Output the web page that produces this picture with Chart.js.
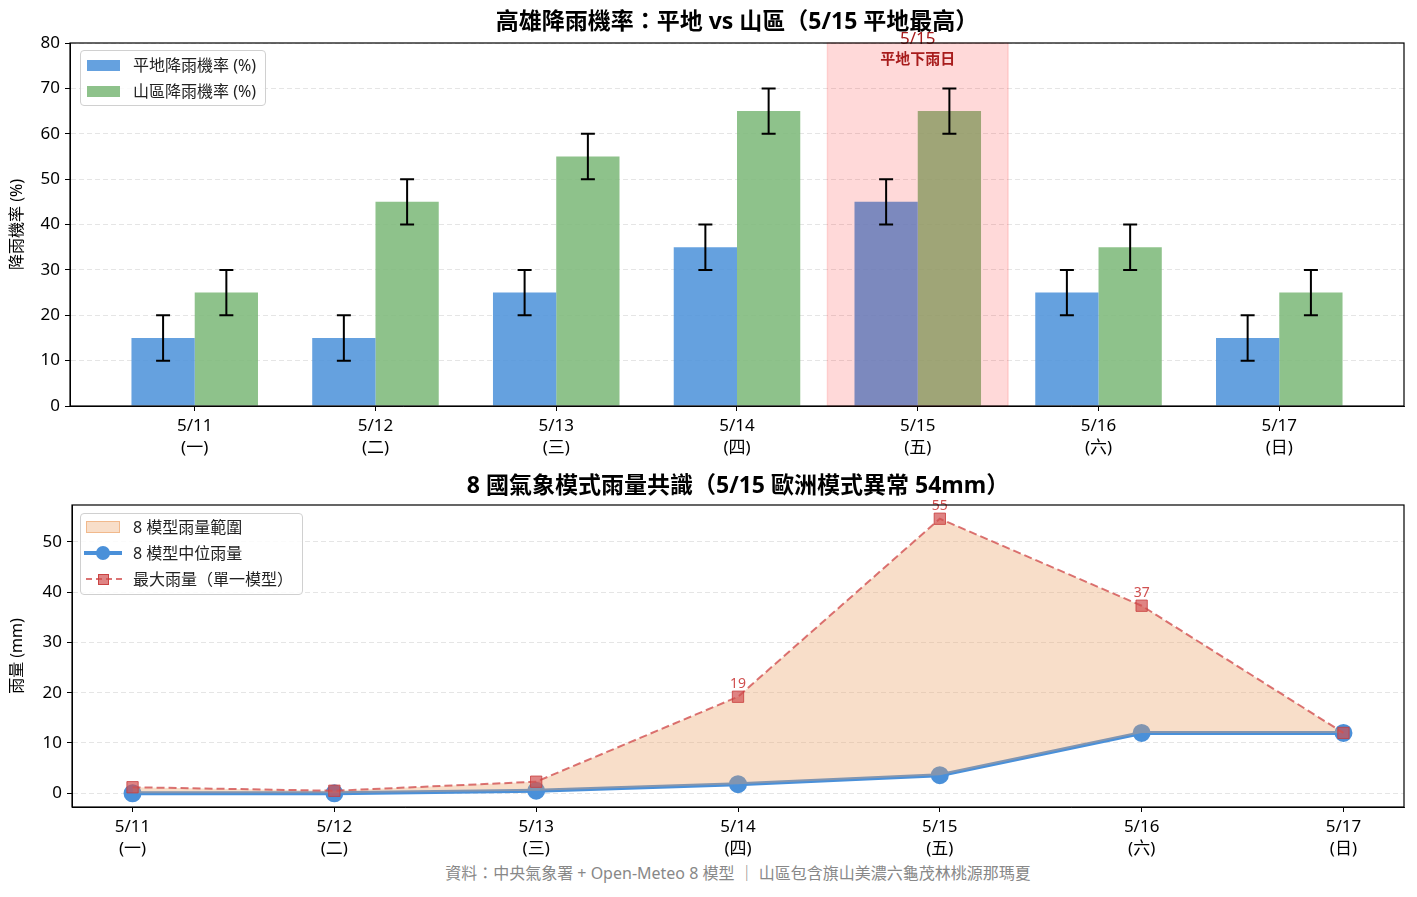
<!DOCTYPE html>
<html>
<head>
<meta charset="utf-8">
<script src="https://cdn.jsdelivr.net/npm/chart.js@4.4.1/dist/chart.umd.min.js"></script>
<style>
  body { margin: 0; background: #fff; font-family: 'Noto Sans', 'Noto Sans CJK TC', sans-serif; }
  #wrap { position: relative; width: 1417px; height: 897px; overflow: hidden; }
  canvas { position: absolute; left: 0; }
  .legend { position: absolute; background: rgba(255,255,255,0.85); border: 1px solid #d0d0d0; border-radius: 4px; font-size: 16px; color: #222; }
  .row { position: absolute; left: 0; height: 22px; width: 100%; }
  .row span { position: absolute; left: 52px; top: 0; line-height: 22px; white-space: nowrap; }
  .sw { position: absolute; }
  #footer { position: absolute; top: 862px; left: 338px; width: 800px; text-align: center; font-size: 16px; line-height: 22px; color: #888; white-space: nowrap; }
</style>
</head>
<body>
<div id="wrap">
  <canvas id="top" width="1417" height="460" style="top:0"></canvas>
  <canvas id="bottom" width="1417" height="400" style="top:462px"></canvas>

  <div class="legend" style="left:80px;top:50px;width:184px;height:54px;">
    <div class="row" style="top:3px"><div class="sw" style="left:6px;top:6px;width:33px;height:11px;background:rgba(74,144,217,0.85)"></div><span>平地降雨機率 (%)</span></div>
    <div class="row" style="top:29px"><div class="sw" style="left:6px;top:6px;width:33px;height:11px;background:rgba(122,183,119,0.85)"></div><span>山區降雨機率 (%)</span></div>
  </div>

  <div class="legend" style="left:80px;top:513px;width:221px;height:80px;">
    <div class="row" style="top:2px"><div class="sw" style="left:5px;top:5px;width:32px;height:10px;background:rgba(236,160,100,0.35);border:1px solid rgba(236,160,100,0.6)"></div><span>8 模型雨量範圍</span></div>
    <div class="row" style="top:28px"><div class="sw" style="left:3px;top:9px;width:38px;height:4px;background:#4a90d9"></div><div class="sw" style="left:15px;top:4px;width:14px;height:14px;border-radius:50%;background:#4a90d9"></div><span>8 模型中位雨量</span></div>
    <div class="row" style="top:54px"><div class="sw" style="left:5px;top:10px;width:36px;height:0;border-top:2px dashed rgba(210,80,80,0.8)"></div><div class="sw" style="left:17px;top:6px;width:9px;height:9px;background:rgba(210,80,80,0.7);border:1px solid rgba(200,60,60,0.9)"></div><span>最大雨量（單一模型）</span></div>
  </div>

  <div id="footer">資料：中央氣象署 + Open-Meteo 8 模型 ｜ 山區包含旗山美濃六龜茂林桃源那瑪夏</div>
</div>

<script>
// 日期與星期
const days = ['5/11', '5/12', '5/13', '5/14', '5/15', '5/16', '5/17'];
const weekdays = ['(一)', '(二)', '(三)', '(四)', '(五)', '(六)', '(日)'];
const dayTicks = [0, 1, 2, 3, 4, 5, 6];

// 上圖：降雨機率
const plainProb = [15, 15, 25, 35, 45, 25, 15];
const mountainProb = [25, 45, 55, 65, 65, 35, 25];
const plainErr = [5, 5, 5, 5, 5, 5, 5];
const mountainErr = [5, 5, 5, 5, 5, 5, 5];
const probTicks = [0, 10, 20, 30, 40, 50, 60, 70, 80];
const highlightIndex = 4;

// 下圖：模式雨量 (mm)
const medianRain = [0, 0, 0.5, 1.8, 3.6, 12, 12];
const maxRain = [1.2, 0.5, 2.3, 19.2, 54.6, 37.3, 12];
const rainTicks = [0, 10, 20, 30, 40, 50];

const FONT = "'Noto Sans', 'Noto Sans CJK TC', sans-serif";
const xy = (arr) => arr.map((v, i) => ({ x: i, y: v }));
const tickLabel = (v) => [days[v], weekdays[v]];
const setTicks = (arr) => (s) => { s.ticks = arr.map((v) => ({ value: v })); };

const gridStyle = {
  color: 'rgba(0,0,0,0.13)', lineWidth: 0.8,
  tickColor: '#000', tickLength: 5, tickWidth: 1, tickBorderDash: []
};

// 外框
const framePlugin = {
  id: 'frame',
  afterDraw(chart) {
    const { ctx, chartArea: a } = chart;
    ctx.save();
    ctx.strokeStyle = '#000';
    ctx.lineWidth = 1.2;
    ctx.strokeRect(a.left, a.top, a.right - a.left, a.bottom - a.top);
    ctx.restore();
  }
};

// 5/15 標示 + 誤差線
const topExtras = {
  id: 'topExtras',
  afterDatasetsDraw(chart) {
    const { ctx, chartArea: a, scales } = chart;
    const x0 = scales.x.getPixelForValue(highlightIndex - 0.5);
    const x1 = scales.x.getPixelForValue(highlightIndex + 0.5);
    ctx.save();
    ctx.fillStyle = 'rgba(255,0,0,0.15)';
    ctx.fillRect(x0, a.top, x1 - x0, a.bottom - a.top);
    ctx.strokeStyle = 'rgba(255,0,0,0.12)';
    ctx.lineWidth = 1.5;
    ctx.strokeRect(x0, a.top, x1 - x0, a.bottom - a.top);

    const errs = [plainErr, mountainErr];
    ctx.strokeStyle = '#000';
    ctx.lineWidth = 2;
    chart.data.datasets.forEach((ds, di) => {
      chart.getDatasetMeta(di).data.forEach((bar, i) => {
        const v = ds.data[i].y, e = errs[di][i];
        const yTop = scales.y.getPixelForValue(v + e);
        const yBot = scales.y.getPixelForValue(v - e);
        ctx.beginPath();
        ctx.moveTo(bar.x, yTop); ctx.lineTo(bar.x, yBot);
        ctx.moveTo(bar.x - 7, yTop); ctx.lineTo(bar.x + 7, yTop);
        ctx.moveTo(bar.x - 7, yBot); ctx.lineTo(bar.x + 7, yBot);
        ctx.stroke();
      });
    });

    const cx = (x0 + x1) / 2;
    ctx.fillStyle = '#a81c1c';
    ctx.textAlign = 'center';
    ctx.textBaseline = 'middle';
    ctx.font = '17px ' + FONT;
    ctx.fillText(days[highlightIndex], cx, a.top - 4);
    ctx.font = 'bold 15px ' + FONT;
    ctx.fillText('平地下雨日', cx, a.top + 17);
    ctx.restore();
  }
};

// 最大雨量數字
const rainLabels = {
  id: 'rainLabels',
  afterDatasetsDraw(chart) {
    const { ctx, scales } = chart;
    ctx.save();
    ctx.fillStyle = '#d05050';
    ctx.font = '14px ' + FONT;
    ctx.textAlign = 'center';
    ctx.textBaseline = 'bottom';
    maxRain.forEach((v, i) => {
      if (v < 15) return;
      ctx.fillText(Math.round(v), scales.x.getPixelForValue(i), scales.y.getPixelForValue(v) - 6);
    });
    ctx.restore();
  }
};

function baseOptions(titleText, titlePad, yTitle, yMin, yMax, yTicks, xMin, xMax, axisWidth, xAxisHeight) {
  return {
    responsive: false,
    animation: false,
    layout: { padding: { left: 0, right: 13, top: 0, bottom: 0 } },
    plugins: {
      legend: { display: false },
      tooltip: { enabled: false },
      title: {
        display: true, text: titleText, fullSize: false, color: '#000',
        font: { family: FONT, size: 23, weight: 'bold', lineHeight: 1.2 },
        padding: titlePad
      }
    },
    scales: {
      x: {
        type: 'linear', min: xMin, max: xMax, offset: false,
        afterFit: (s) => { s.height = xAxisHeight; },
        afterBuildTicks: setTicks(dayTicks),
        grid: { ...gridStyle, drawOnChartArea: false, offset: false },
        border: { color: '#000', width: 1 },
        ticks: {
          autoSkip: false, maxRotation: 0,
          color: '#000', padding: 5,
          font: { family: FONT, size: 17, lineHeight: 1.25 },
          callback: tickLabel
        }
      },
      y: {
        min: yMin, max: yMax,
        afterFit: (s) => { s.width = axisWidth; },
        afterBuildTicks: setTicks(yTicks),
        grid: gridStyle,
        border: { color: '#000', width: 1, dash: [5, 3] },
        title: { display: true, text: yTitle, color: '#000', font: { family: FONT, size: 16, lineHeight: 1.2 }, padding: { top: 8, bottom: 0 } },
        ticks: { color: '#000', padding: 5, font: { family: FONT, size: 17 } }
      }
    }
  };
}

const topOpts = baseOptions('高雄降雨機率：平地 vs 山區（5/15 平地最高）', { top: 9, bottom: 6.4 }, '降雨機率 (%)',
  probTicks[0], probTicks[probTicks.length - 1], probTicks, -0.69, 6.69, 70, 54);

new Chart(document.getElementById('top'), {
  type: 'bar',
  data: {
    datasets: [
      { label: '平地降雨機率 (%)', data: xy(plainProb), backgroundColor: 'rgba(74,144,217,0.85)', categoryPercentage: 0.7, barPercentage: 1.0 },
      { label: '山區降雨機率 (%)', data: xy(mountainProb), backgroundColor: 'rgba(122,183,119,0.85)', categoryPercentage: 0.7, barPercentage: 1.0 }
    ]
  },
  options: topOpts,
  plugins: [topExtras, framePlugin]
});

const bottomOpts = baseOptions('8 國氣象模式雨量共識（5/15 歐洲模式異常 54mm）', { top: 11, bottom: 4.4 }, '雨量 (mm)',
  -2.73, 57.33, rainTicks, -0.3, 6.3, 72, 55);

new Chart(document.getElementById('bottom'), {
  type: 'line',
  data: {
    datasets: [
      {
        label: '最大雨量（單一模型）', data: xy(maxRain), order: 1,
        borderColor: 'rgba(210,80,80,0.8)', borderWidth: 2, borderDash: [8, 4],
        pointStyle: 'rect', pointRadius: 8, pointBackgroundColor: 'rgba(210,80,80,0.7)',
        pointBorderColor: 'rgba(200,60,60,0.8)', pointBorderWidth: 1,
        fill: { target: 1, above: 'rgba(236,160,100,0.35)', below: 'rgba(236,160,100,0.35)' },
        tension: 0
      },
      {
        label: '8 模型中位雨量', data: xy(medianRain), order: 2,
        borderColor: '#4a90d9', borderWidth: 4,
        pointStyle: 'circle', pointRadius: 7, pointBackgroundColor: '#4a90d9', pointBorderColor: '#4a90d9',
        fill: false, tension: 0
      }
    ]
  },
  options: bottomOpts,
  plugins: [rainLabels, framePlugin]
});
</script>
</body>
</html>
